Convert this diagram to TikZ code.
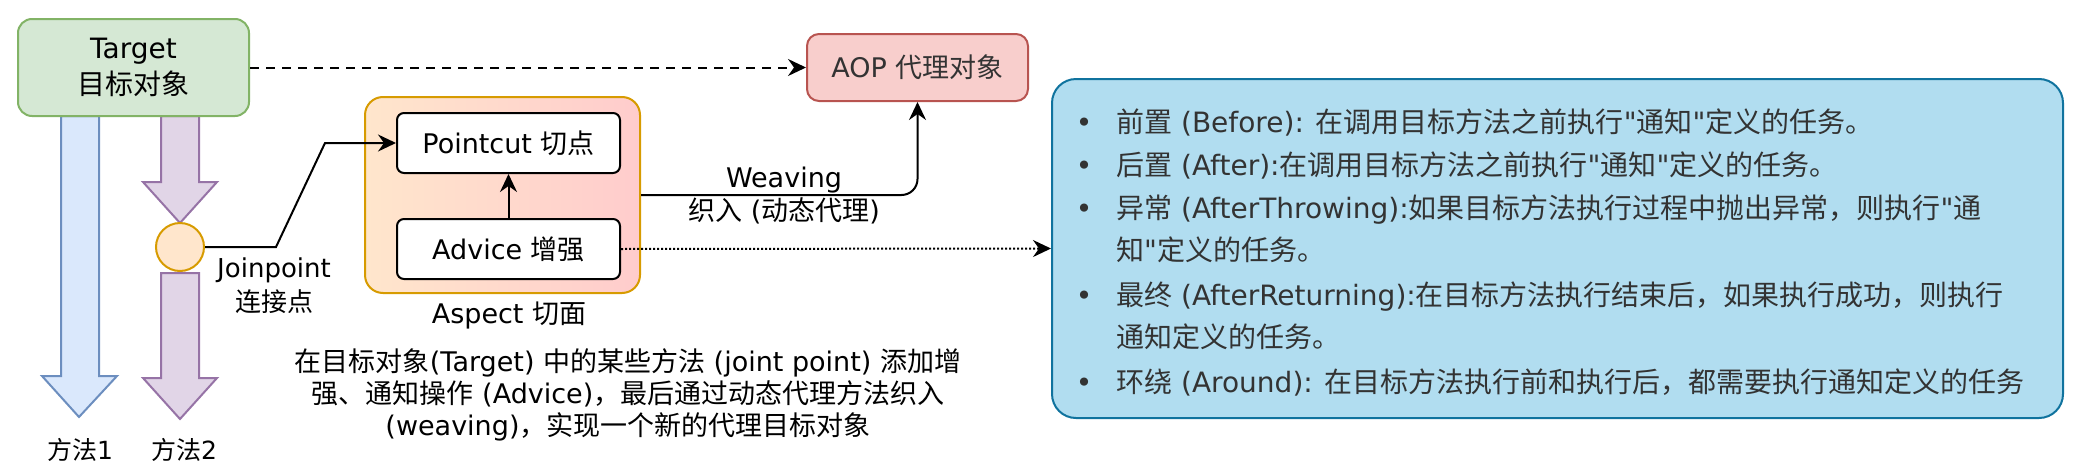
\documentclass[tikz,border=0pt]{standalone}
\usepackage{fontspec}
\setmainfont{DejaVu Sans}[Ligatures=TeXOff]
\newfontfamily\zhfont{Noto Sans CJK SC}
\newcommand\zh[1]{{\zhfont #1}}
\usetikzlibrary{arrows.meta}
\definecolor{tgfill}{HTML}{D5E8D4}
\definecolor{tgdraw}{HTML}{82B366}
\definecolor{blfill}{HTML}{DAE8FC}
\definecolor{bldraw}{HTML}{6C8EBF}
\definecolor{pufill}{HTML}{E1D5E7}
\definecolor{pudraw}{HTML}{9673A6}
\definecolor{orfill}{HTML}{FFE6CC}
\definecolor{ordraw}{HTML}{D79B00}
\definecolor{rdfill}{HTML}{FFCCCC}
\definecolor{aopfill}{HTML}{F8CECC}
\definecolor{aopdraw}{HTML}{B85450}
\definecolor{pnfill}{HTML}{B1DDF0}
\definecolor{pndraw}{HTML}{10739E}
\definecolor{dgray}{HTML}{333333}
\newcommand\myfs[2]{\fontsize{#1}{#2}\selectfont}
\tikzset{
  tip/.style={-{Stealth[length=18pt,width=17pt,inset=6pt]}},
  conn/.style={line width=2pt, tip},
  blockblue/.style={draw=bldraw, fill=blfill, line width=2pt, line join=miter},
  blockpurple/.style={draw=pudraw, fill=pufill, line width=2pt, line join=miter},
  whitebox/.style={draw=black, fill=white, line width=2pt, rounded corners=7pt,
    minimum width=223pt, minimum height=60pt, inner sep=0pt, font=\myfs{27}{34}},
  lbl/.style={inner sep=0pt, align=center},
  paneltxt/.style={inner sep=0pt, anchor=base west, text=dgray, font=\myfs{28}{43}},
  bullet/.style={inner sep=0pt, anchor=base, text=dgray, font=\myfs{28}{43}},
}
\begin{document}
\begin{tikzpicture}[x=1pt,y=-1pt]
\useasboundingbox (0,0) rectangle (2074,474);
% block arrows (methods)
\draw[blockblue] (61,116) -- (61,376) -- (42,376) -- (79,417) -- (117,376) -- (99,376) -- (99,116) -- cycle;
\draw[blockpurple] (161,116) -- (161,182) -- (143,182) -- (180,223) -- (217,182) -- (199,182) -- (199,116) -- cycle;
\draw[blockpurple] (161,273) -- (161,378) -- (143,378) -- (180,419) -- (217,378) -- (199,378) -- (199,273) -- cycle;
% target
\node[draw=tgdraw, fill=tgfill, line width=2pt, rounded corners=14pt,
  minimum width=231pt, minimum height=97pt, inner sep=0pt, align=center,
  font=\myfs{28}{36}] (target) at (133.5,67.5) {Target\\\zh{目标对象}};
% joinpoint circle
\node[circle, draw=ordraw, fill=orfill, line width=2pt, minimum size=48pt, inner sep=0pt] (jp) at (180,247) {};
\node[lbl, font=\myfs{26}{34}] (jplabel) at (274,286) {Joinpoint\\\zh{连接点}};
\node[lbl, font=\myfs{25}{30}] (m1) at (80,450) {\zh{方法}1};
\node[lbl, font=\myfs{25}{30}] (m2) at (184,450) {\zh{方法}2};
% aspect
\node[draw=ordraw, left color=orfill, right color=rdfill, line width=2pt, rounded corners=18pt,
  minimum width=275pt, minimum height=196pt, inner sep=0pt] (aspect) at (502.5,195) {};
\node[whitebox] (pc) at (508.5,143) {Pointcut \zh{切点}};
\node[whitebox] (adv) at (508.5,249) {Advice \zh{增强}};
\node[lbl, font=\myfs{27}{34}] (asplabel) at (509,315) {Aspect \zh{切面}};
% AOP proxy
\node[draw=aopdraw, fill=aopfill, line width=2pt, rounded corners=12pt,
  minimum width=221pt, minimum height=67pt, inner sep=0pt, text=dgray,
  font=\myfs{27}{34}] (aop) at (917.5,67.5) {AOP \zh{代理对象}};
% panel
\node[draw=pndraw, fill=pnfill, line width=2pt, rounded corners=24pt,
  minimum width=1011pt, minimum height=339pt, inner sep=0pt] (panel) at (1557.5,248.5) {};
\node[bullet] (b1) at (1084,132) {•};
\node[bullet] (b2) at (1084,175) {•};
\node[bullet] (b3) at (1084,218) {•};
\node[bullet] (b4) at (1084,305) {•};
\node[bullet] (b5) at (1084,392) {•};
\node[paneltxt] (t1) at (1116,132) {\zh{前置} (Before): \zh{在调用目标方法之前执行}"\zh{通知}"\zh{定义的任务。}};
\node[paneltxt] (t2) at (1116,175) {\zh{后置} (After):\zh{在调用目标方法之前执行}"\zh{通知}"\zh{定义的任务。}};
\node[paneltxt] (t3) at (1116,218) {\zh{异常} (AfterThrowing):\zh{如果目标方法执行过程中抛出异常，则执行}"\zh{通}};
\node[paneltxt] (t3b) at (1116,260) {\zh{知}"\zh{定义的任务。}};
\node[paneltxt] (t4) at (1116,305) {\zh{最终} (AfterReturning):\zh{在目标方法执行结束后，如果执行成功，则执行}};
\node[paneltxt] (t4b) at (1116,347) {\zh{通知定义的任务。}};
\node[paneltxt] (t5) at (1116,392) {\zh{环绕} (Around): \zh{在目标方法执行前和执行后，都需要执行通知定义的任务}};
% bottom description
\node[lbl, font=\myfs{27}{32}] (desc) at (628,395) {\zh{在目标对象}(Target) \zh{中的某些方法} (joint point) \zh{添加增}\\\zh{强、通知操作} (Advice)\zh{，最后通过动态代理方法织入}\\(weaving)\zh{，实现一个新的代理目标对象}};
% weaving label
\node[lbl, font=\myfs{27}{33}] (weave) at (784,196) {Weaving\\\zh{织入} (\zh{动态代理})};
% connectors
\coordinate (jp1) at (276,247);
\coordinate (jp2) at (325,143);
\draw[conn] (jp.east) -- (jp1) -- (jp2) -- (pc.west);
\draw[conn] (adv.north) -- (pc.south);
\draw[conn, dash pattern=on 9pt off 7pt] (target.east) -- (aop.west);
\draw[conn, rounded corners=16pt] (aspect.east) -| (aop.south);
\draw[conn, dash pattern=on 2pt off 2pt] (adv.east) -- (panel.west);
\end{tikzpicture}
\end{document}
